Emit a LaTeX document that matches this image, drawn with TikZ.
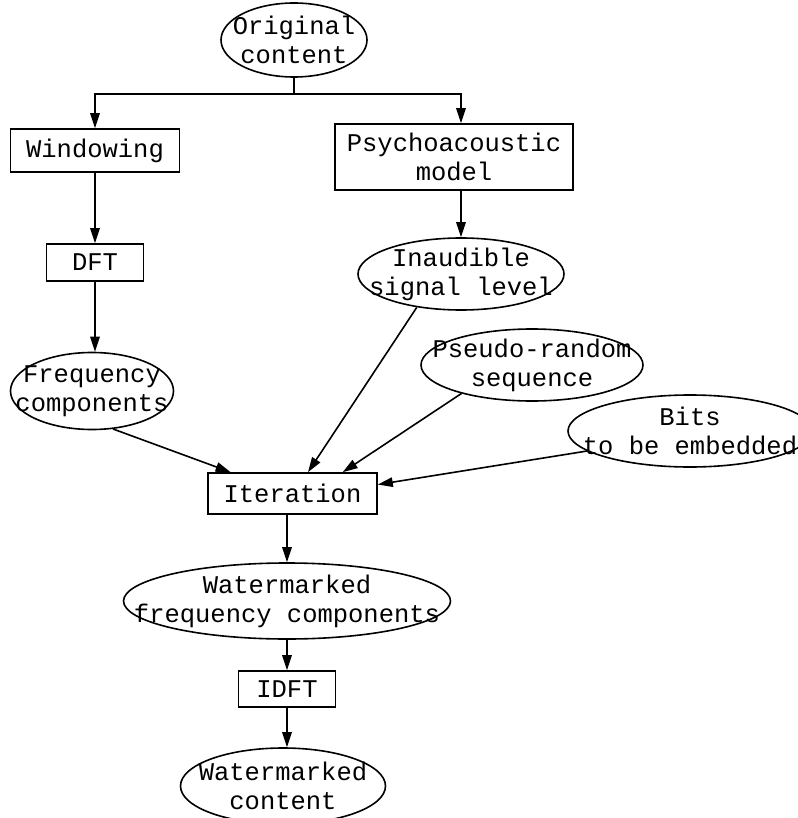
\documentclass[tikz,border=0pt]{standalone}
\usepackage{fontspec}
\setmainfont{Liberation Mono}
\usetikzlibrary{shapes.geometric,arrows.meta}

\begin{document}
\begin{tikzpicture}[x=1pt,y=-1pt,
    every node/.style={font=\fontsize{25.5}{29}\selectfont,align=center},
    box/.style={draw,line width=1.6pt,inner sep=0pt},
    oval/.style={draw,ellipse,line width=1.6pt,inner sep=-60pt},
    arr/.style={-{Triangle[length=15pt,width=9.5pt]},line width=1.6pt}]
  \useasboundingbox (0,0) rectangle (797,818);

  % Input and analysis
  \node[oval,minimum width=146pt,minimum height=74pt] (orig) at (294,40) {Original\\content};
  \coordinate (split) at (294,94);
  \node[box,minimum width=169pt,minimum height=43pt] (win) at (95,150.5) {Windowing};
  \node[box,minimum width=238pt,minimum height=66pt] (psy) at (454,157) {Psychoacoustic\\model};
  \node[box,minimum width=97pt,minimum height=37pt] (dft) at (95,262.5) {DFT};
  \node[oval,minimum width=206pt,minimum height=72pt] (inaud) at (461,274) {Inaudible\\signal level};
  \node[oval,minimum width=163pt,minimum height=77pt] (freq) at (92,391) {Frequency\\components};
  \node[oval,minimum width=222pt,minimum height=72pt] (pseudo) at (532,365) {Pseudo-random\\sequence};
  \node[oval,minimum width=244pt,minimum height=72pt] (bits) at (690,431) {Bits\\to be embedded};

  % Embedding and synthesis
  \node[box,minimum width=169pt,minimum height=41pt] (iter) at (292.5,493.5) {Iteration};
  \node[oval,minimum width=327pt,minimum height=76pt] (wfc) at (287,601) {Watermarked\\frequency components};
  \node[box,minimum width=97pt,minimum height=36pt] (idft) at (287,689) {IDFT};
  \node[oval,minimum width=205pt,minimum height=76pt] (wcont) at (283,786) {Watermarked\\content};

  % Connectors
  \draw[line width=1.6pt] (orig.south) -- (split);
  \draw[arr] (split) -| (win.north);
  \draw[arr] (split) -| (psy.north -| inaud.north);
  \draw[arr] (win.south) -- (dft.north);
  \draw[arr] (dft.south) -- (dft.south |- freq.north);
  \draw[arr] (psy.south -| inaud.north) -- (inaud.north);
  \draw[arr] (freq.299) -- (iter.161);
  \draw[arr] (inaud.217) -- (iter.54);
  \draw[arr] (pseudo.202) -- (iter.23);
  \draw[arr] (bits.191) -- (iter.6);
  \draw[arr] (iter.south -| wfc.north) -- (wfc.north);
  \draw[arr] (wfc.south) -- (idft.north);
  \draw[arr] (idft.south) -- (wcont.north -| idft.south);
\end{tikzpicture}
\end{document}
